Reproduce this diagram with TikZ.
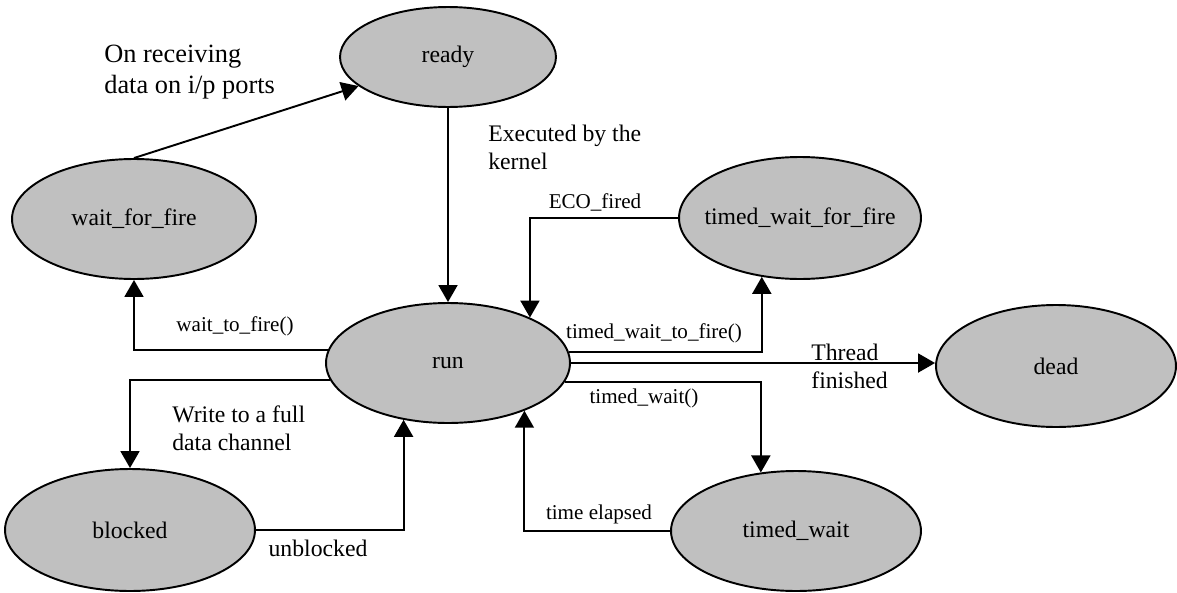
\documentclass[tikz,border=0pt]{standalone}
\usepackage{fontspec}
\setmainfont{Liberation Serif}
\usetikzlibrary{shapes.geometric,arrows.meta}

\definecolor{stategray}{RGB}{192,192,192}

\begin{document}
\begin{tikzpicture}[
    x=0.02cm, y=-0.02cm,
    font=\fontsize{13.5}{16}\selectfont,
    state/.style={draw, ellipse, fill=stategray, line width=1.1pt, inner sep=0pt, minimum width=4.88cm, minimum height=2.4cm},
    edge/.style={-{Triangle[length=0.34cm, width=0.38cm]}, line width=1.1pt},
    lbl/.style={inner sep=0pt, align=left},
    small/.style={font=\fontsize{12}{14}\selectfont}
]
\useasboundingbox (0,0) rectangle (1177,592);

% states
\node[state, minimum width=4.32cm, minimum height=2cm] (ready) at (448,57) {ready};
\node[state] (wff) at (134,219) {wait\_for\_fire};
\node[state, minimum width=4.84cm, minimum height=2.44cm, label=center:timed\_wait\_for\_fire] (twff) at (800,218) {};
\node[state] (run) at (448,363) {run};
\node[state, minimum width=4.8cm, minimum height=2.44cm] (dead) at (1056,366) {dead};
\node[state, minimum width=5cm, minimum height=2.44cm] (blocked) at (130,530) {blocked};
\node[state, minimum width=5cm] (twait) at (796,531) {timed\_wait};

% transitions
\draw[edge] (wff.north) -- (ready.198);
\draw[edge] (ready.south) -- (ready.south |- run.north);
\draw[edge] (run.174) -| (wff.south);
\draw[edge] (run.188) -| (blocked.north);
\draw[edge] (blocked.east) -| (run.232);
\draw[edge] (twff.west) -| (run.29);
\draw[edge] (run.5) -| (twff.237);
\draw[edge] (run.east) -- (run.east -| dead.west);
\draw[edge] (run.351) -| (twait.121);
\draw[edge] (twait.west) -| (run.328);

% labels
\node[lbl, anchor=west, font=\fontsize{15}{18}\selectfont] (recv) at (104,72) {On receiving\\data on i/p ports};
\node[lbl, anchor=west] (exec) at (488,147) {Executed by the\\kernel};
\node[lbl, small] (eco) at (595,202) {ECO\_fired};
\node[lbl, small] (wtf) at (235,326) {wait\_to\_fire()};
\node[lbl, small] (twtf) at (654,333) {timed\_wait\_to\_fire()};
\node[lbl, anchor=west] (thread) at (811,366) {Thread\\finished};
\node[lbl, small] (tw) at (644,398) {timed\_wait()};
\node[lbl, anchor=west] (write) at (172,428) {Write to a full\\data channel};
\node[lbl, small] (elapsed) at (599,514) {time elapsed};
\node[lbl] (unbl) at (318,548) {unblocked};
\end{tikzpicture}
\end{document}
